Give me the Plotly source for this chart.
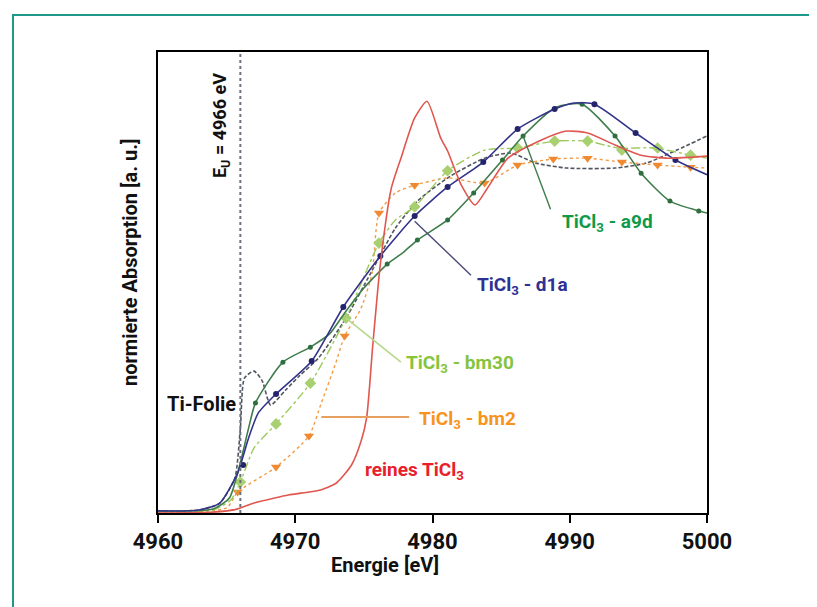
import plotly.graph_objects as go

# ---------------- data ----------------
# reines TiCl3 (red, solid)
red_x = [4960, 4964, 4965.76, 4966.9, 4968.5, 4969.5, 4971.0, 4971.85, 4973.0, 4974.1, 4974.8, 4975.2, 4975.65, 4976.2,
         4977.0, 4977.7, 4978.7, 4979.6, 4980.6, 4981.1, 4982.1, 4983.1, 4984.0, 4985.5, 4987.9, 4989.65, 4991.3,
         4993.3, 4995.2, 4997.2, 5000]
red_y = [0.0, 0.003, 0.013, 0.032, 0.05, 0.06, 0.07, 0.077, 0.1, 0.16, 0.24, 0.317, 0.56, 0.83,
         1.083, 1.183, 1.317, 1.373, 1.25, 1.207, 1.093, 1.027, 1.083, 1.183, 1.243, 1.273, 1.267,
         1.227, 1.193, 1.183, 1.19]

# TiCl3 - d1a (navy, solid + circles)
d1a_x = [4960, 4963, 4964.5, 4965.8, 4966.6, 4967.3, 4968.6, 4971.2, 4973.5, 4976.2, 4978.7, 4981.1, 4983.7,
         4986.2, 4988.9, 4990.3, 4991.8, 4994.8, 4997.7, 5000]
d1a_y = [0.007, 0.01, 0.033, 0.133, 0.25, 0.333, 0.397, 0.507, 0.687, 0.857, 0.99, 1.087, 1.17,
         1.28, 1.347, 1.367, 1.363, 1.267, 1.177, 1.128]
d1a_mx = [4966.2, 4968.6, 4971.2, 4973.5, 4976.2, 4978.7, 4981.1, 4983.7, 4986.2, 4988.9, 4991.8, 4994.8, 4997.7]
d1a_my = [0.16, 0.397, 0.507, 0.687, 0.857, 0.99, 1.087, 1.17, 1.28, 1.347, 1.363, 1.267, 1.177]

# TiCl3 - a9d (dark green, solid + small circles)
a9d_x = [4960, 4964, 4965.2, 4965.9, 4966.6, 4967.1, 4969.1, 4971.1, 4972.5, 4973.6, 4975.0, 4976.7, 4977.9,
         4978.9, 4981.1, 4983.0, 4985.1, 4986.6, 4989.0, 4990.9, 4993.3, 4995.2, 4997.3, 5000]
a9d_y = [0.007, 0.013, 0.05, 0.15, 0.283, 0.367, 0.503, 0.553, 0.597, 0.667, 0.75, 0.83, 0.87,
         0.91, 0.977, 1.067, 1.177, 1.257, 1.353, 1.363, 1.257, 1.133, 1.04, 1.0]
a9d_mx = [4967.1, 4969.1, 4971.1, 4976.7, 4978.9, 4981.1, 4983.0, 4985.1, 4986.6, 4990.9, 4993.3, 4995.2, 4997.3, 4999.4]
a9d_my = [0.367, 0.503, 0.553, 0.83, 0.91, 0.977, 1.067, 1.177, 1.257, 1.363, 1.257, 1.133, 1.04, 1.007]

# TiCl3 - bm30 (light green, dash-dot + blobs)
bm30_x = [4960, 4964, 4965.3, 4966.0, 4967.0, 4968.6, 4971.1, 4973.7, 4976.1, 4977.3, 4978.7, 4981.1, 4983.8,
          4986.2, 4988.9, 4991.3, 4993.5, 4996.2, 4998.8, 5000]
bm30_y = [0.005, 0.01, 0.043, 0.103, 0.217, 0.297, 0.433, 0.65, 0.9, 0.977, 1.021, 1.141, 1.21,
          1.217, 1.24, 1.24, 1.217, 1.217, 1.193, 1.183]
bm30_mx = [4966.0, 4968.6, 4971.1, 4973.7, 4976.1, 4978.7, 4981.1, 4986.2, 4988.9, 4991.3, 4993.8, 4996.4, 4998.8]
bm30_my = [0.103, 0.297, 0.433, 0.65, 0.9, 1.021, 1.141, 1.217, 1.24, 1.24, 1.21, 1.217, 1.193]

# TiCl3 - bm2 (orange, dotted + down triangles)
bm2_x = [4960, 4965, 4965.8, 4968.6, 4971.0, 4971.9, 4972.9, 4973.6, 4974.8, 4975.6, 4976.1, 4977.3, 4978.7,
         4981.1, 4983.8, 4986.2, 4988.8, 4991.3, 4993.8, 4996.4, 4998.8, 5000]
bm2_y = [0.003, 0.017, 0.07, 0.153, 0.257, 0.367, 0.493, 0.59, 0.683, 0.8, 1.0, 1.067, 1.093,
         1.117, 1.1, 1.16, 1.18, 1.183, 1.17, 1.16, 1.153, 1.15]
bm2_mx = [4965.8, 4968.6, 4971.0, 4973.6, 4976.1, 4978.7, 4983.8, 4986.2, 4988.8, 4991.3, 4993.8, 4996.4, 4998.8]
bm2_my = [0.07, 0.153, 0.257, 0.59, 1.0, 1.093, 1.1, 1.16, 1.18, 1.183, 1.17, 1.16, 1.153]

# Ti-Folie (grey, dashed)
foil_x = [4960, 4963, 4964.5, 4965.6, 4966.0, 4966.3, 4967.0, 4967.6, 4968.2, 4969.3, 4970.3, 4971.7, 4973.7,
          4975.5, 4977.3, 4978.9, 4981.3, 4983.8, 4985.7, 4987.5, 4989.8, 4993.3, 4995.6, 4997.8, 5000]
foil_y = [0.005, 0.01, 0.033, 0.117, 0.283, 0.45, 0.473, 0.44, 0.36, 0.41, 0.457, 0.517, 0.65,
          0.8, 0.95, 1.04, 1.123, 1.183, 1.2, 1.167, 1.15, 1.15, 1.167, 1.21, 1.257]

edge_energy = 4966
x_ticks = [4960, 4970, 4980, 4990, 5000]
x_range = [4960, 5000]
y_range = [0, 1.537]

FONT = "Roboto, Liberation Sans Narrow, sans-serif"

C_RED = "#e0574f"
C_NAVY = "#33338a"
C_DGREEN = "#3f7d4c"
C_LGREEN = "#9cc95a"
C_ORANGE = "#f29a45"
C_GREY = "#50555f"

fig = go.Figure()

def curve(x, y, color, width, dash=None):
    fig.add_trace(go.Scatter(x=x, y=y, mode="lines",
                             line=dict(color=color, width=width, dash=dash, shape="spline", smoothing=0.6),
                             showlegend=False, hoverinfo="skip"))

def marks(x, y, symbol, size, color):
    fig.add_trace(go.Scatter(x=x, y=y, mode="markers",
                             marker=dict(symbol=symbol, size=size, color=color),
                             showlegend=False, hoverinfo="skip"))

curve(foil_x, foil_y, C_GREY, 1.6, "4px,2px")
curve(bm2_x, bm2_y, C_ORANGE, 1.4, "dot")
marks(bm2_mx, bm2_my, "triangle-down", 9, "#f08a32")
curve(bm30_x, bm30_y, C_LGREEN, 1.4, "dashdot")
marks(bm30_mx, bm30_my, "diamond", 9, "#a8d070")
curve(a9d_x, a9d_y, C_DGREEN, 1.6)
marks(a9d_mx, a9d_my, "circle", 5, "#2f6e3e")
curve(d1a_x, d1a_y, C_NAVY, 1.6)
marks(d1a_mx, d1a_my, "circle", 6, "#24246e")
curve(red_x, red_y, C_RED, 1.6)

# vertical dotted edge line
fig.add_shape(type="line", xref="x", yref="paper", x0=edge_energy, x1=edge_energy, y0=0, y1=1,
              line=dict(color="#6b7080", width=2, dash="dot"))

# leader lines (data coordinates)
fig.add_shape(type="line", xref="x", yref="y", x0=4986.6, y0=1.257, x1=4988.6, y1=1.013,
              line=dict(color=C_DGREEN, width=1.4))
fig.add_shape(type="line", xref="x", yref="y", x0=4978.7, y0=0.973, x1=4982.8, y1=0.793,
              line=dict(color="#4a4a7a", width=1.4))
fig.add_shape(type="line", xref="x", yref="y", x0=4973.7, y0=0.65, x1=4977.7, y1=0.503,
              line=dict(color="#b5d88a", width=1.6))
fig.add_shape(type="line", xref="x", yref="y", x0=4971.9, y0=0.32, x1=4978.3, y1=0.32,
              line=dict(color="#e8a060", width=2))

# teal outer frame
fig.add_shape(type="rect", xref="paper", yref="paper", x0=-0.2641, x1=1.35, y0=-0.30, y1=1.0803,
              line=dict(color="#1f9a8a", width=2), fillcolor="rgba(0,0,0,0)", layer="above")

def ann(text, x, y, color, size=19, angle=0, xanchor="center"):
    fig.add_annotation(text="<b>" + text + "</b>", x=x, y=y, xref="paper", yref="paper", showarrow=False,
                       textangle=angle, xanchor=xanchor, yanchor="middle",
                       font=dict(family=FONT, size=size, color=color))

def px(xp):
    return (xp - 150) / 549.0

def py(yp):
    return (505 - yp) / 461.0

ann("E<sub>U</sub> = 4966 eV", px(213), py(118), "#111111", size=18, angle=-90)
ann("normierte Absorption [a. u.]", px(122), py(254), "#111111", size=20, angle=-90)
ann("Energie [eV]", px(377), py(557), "#111111", size=20)
ann("Ti-Folie", px(193), py(396), "#111111", size=20)
ann("TiCl<sub>3</sub> - a9d", px(552), py(215), "#0f9a4a", size=19, xanchor="left")
ann("TiCl<sub>3</sub> - d1a", px(467), py(277), "#2e3192", size=19, xanchor="left")
ann("TiCl<sub>3</sub> - bm30", px(396), py(355), "#86c440", size=19, xanchor="left")
ann("TiCl<sub>3</sub> - bm2", px(409), py(411), "#f7941d", size=19, xanchor="left")
ann("reines TiCl<sub>3</sub>", px(355), py(462), "#e8202a", size=19, xanchor="left")

fig.update_xaxes(range=x_range, tickvals=x_ticks, ticktext=[str(t) for t in x_ticks],
                 showline=True, linecolor="black", linewidth=2, mirror=True,
                 ticks="outside", ticklen=8, tickwidth=2, tickcolor="black",
                 showgrid=False, zeroline=False,
                 tickfont=dict(family=FONT, size=22, color="#111111", weight="bold"))
fig.update_yaxes(range=y_range, showticklabels=False, ticks="",
                 showline=True, linecolor="black", linewidth=2, mirror=True,
                 showgrid=False, zeroline=False)

fig.update_layout(width=817, height=607, margin=dict(l=150, r=118, t=44, b=102),
                  paper_bgcolor="white", plot_bgcolor="white",
                  font=dict(family=FONT))

fig.write_html("out.html")
